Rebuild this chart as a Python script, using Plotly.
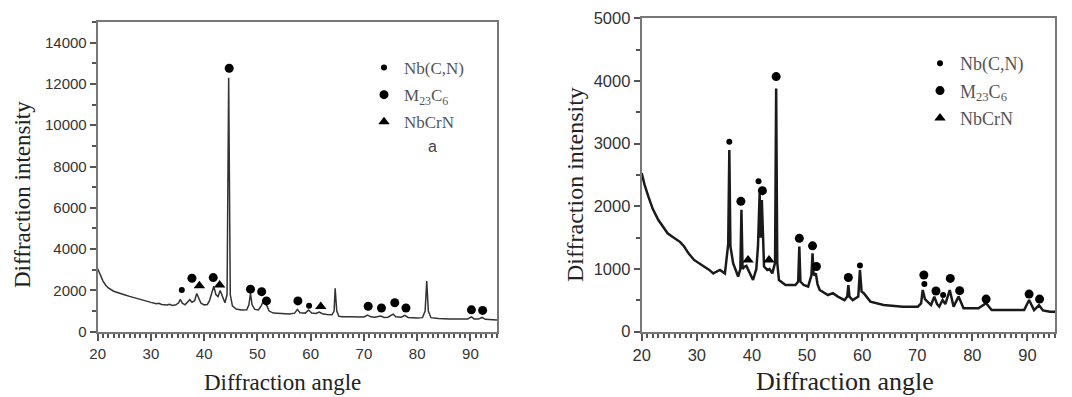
import plotly.graph_objects as go

# ---------------- Left panel (a) ----------------
left_angle = [20.0, 20.5, 21.0, 21.5, 22.0, 23.0, 24.0, 25.0, 26.0, 27.0, 28.0, 29.0, 30.0, 31.0, 31.5,
              32.0, 33.0, 33.5, 34.0, 34.7, 35.2, 35.5, 35.9, 36.4, 36.8, 37.3, 37.7, 38.2, 38.6, 39.0,
              39.4, 40.0, 40.6, 41.0, 41.5, 41.8, 42.2, 42.6, 43.0, 43.4, 43.9, 44.3, 44.6, 44.9, 45.3,
              46.0, 47.0, 48.0, 48.4, 48.7, 49.0, 49.5, 50.2, 50.7, 51.0, 51.3, 51.7, 52.2, 53.0, 54.0,
              55.0, 56.0, 57.0, 57.5, 58.0, 59.0, 59.6, 60.2, 61.0, 61.6, 62.2, 63.0, 64.0, 64.4, 64.6,
              64.9, 65.3, 66.0, 67.0, 68.0, 69.0, 70.0, 70.7, 71.3, 72.0, 73.2, 73.8, 74.5, 75.5, 76.0,
              77.0, 77.7, 78.3, 79.0, 80.0, 81.0, 81.5, 81.8, 82.1, 82.6, 84.0, 86.0, 88.0, 89.5, 90.2,
              90.7, 91.5, 92.2, 92.8, 94.0, 95.0]
left_intensity = [3050, 2700, 2450, 2250, 2120, 1960, 1860, 1790, 1710, 1630, 1560, 1490, 1420, 1360, 1380,
                  1320, 1290, 1330, 1270, 1300, 1400, 1560, 1380, 1300, 1420, 1550, 1420, 1500, 1850, 1600,
                  1380, 1300, 1320, 1500, 2000, 2200, 1800, 1700, 2000, 1700, 1400, 1800, 12300, 1800, 1250,
                  1100, 1050, 1060, 1300, 1850, 1300, 1080, 1050, 1250, 1400, 1550, 1300, 1000, 900, 880,
                  870, 860, 900, 1080, 920, 900, 1050, 900, 880, 950, 870, 830, 820, 1000, 2100,
                  1000, 750, 720, 720, 710, 700, 710, 800, 720, 700, 760, 690, 700, 850, 720,
                  700, 790, 690, 670, 660, 680, 1000, 2450, 1000, 680, 640, 620, 620, 620, 720,
                  620, 610, 690, 600, 580, 570]

left_nbcn_x = [35.8, 59.7]
left_nbcn_y = [2020, 1260]
left_m23c6_x = [37.7, 41.7, 44.7, 48.7, 50.8, 51.7, 57.6, 70.8, 73.3, 75.8, 77.9, 90.2, 92.3]
left_m23c6_y = [2590, 2620, 12760, 2060, 1940, 1490, 1490, 1230, 1150, 1400, 1150, 1060, 1030]
left_nbcrn_x = [39.1, 42.9, 61.9]
left_nbcrn_y = [2230, 2260, 1220]

# ---------------- Right panel ----------------
right_angle = [20.0, 20.5, 21.2, 22.0, 23.0, 24.0, 24.7, 25.5, 26.5, 27.0, 27.7, 28.5, 29.5, 30.5, 31.3,
               32.2, 33.0, 33.6, 34.2, 35.1, 35.5, 35.7, 35.9, 36.1, 36.6, 37.5, 37.9, 38.1, 38.3, 38.7,
               39.0, 39.5, 40.2, 40.8, 41.1, 41.4, 41.6, 41.8, 42.0, 42.2, 42.8, 43.2, 43.7, 44.2, 44.4,
               44.6, 44.9, 46.1, 47.9, 48.4, 48.6, 48.8, 49.4, 50.2, 50.8, 51.0, 51.2, 51.6, 51.9, 52.3,
               53.8, 54.7, 55.6, 56.8, 57.3, 57.5, 57.7, 58.3, 59.3, 59.6, 59.9, 60.3, 61.5, 63.9, 67.4,
               70.1, 70.7, 71.0, 71.4, 71.9, 72.5, 73.1, 73.6, 74.0, 74.6, 75.1, 75.9, 76.6, 77.5, 78.4,
               81.1, 82.5, 83.5, 86.4, 89.4, 90.3, 91.2, 92.1, 92.8, 94.1, 95.0]
right_intensity = [2530, 2350, 2160, 1960, 1785, 1650, 1570, 1520, 1465, 1430, 1360, 1250, 1145, 1080, 1040,
                   990, 930, 960, 985, 930, 1200, 1400, 2900, 1360, 1090, 880, 1000, 1945, 1000, 1040,
                   1050, 960, 825, 1000, 1360, 2210, 1500, 2100, 1400, 1040, 985, 1000, 930, 1100, 3880,
                   1100, 825, 745, 745, 800, 1360, 800, 745, 720, 900, 1250, 900, 930, 760, 665,
                   585, 615, 560, 505, 560, 745, 560, 505, 560, 985, 640, 615, 480, 425, 400,
                   400, 450, 665, 520, 480, 425, 560, 440, 400, 505, 440, 665, 400, 560, 375,
                   375, 455, 345, 345, 345, 505, 345, 425, 340, 320, 320]

right_nbcn_x = [35.9, 41.2, 59.6, 71.3, 74.7]
right_nbcn_y = [3030, 2400, 1055, 760, 585]
right_m23c6_x = [38.0, 41.9, 44.4, 48.6, 51.0, 51.7, 57.5, 71.2, 73.4, 76.0, 77.7, 82.5, 90.3, 92.2]
right_m23c6_y = [2080, 2250, 4070, 1490, 1370, 1040, 865, 905, 650, 850, 655, 520, 600, 520]
right_nbcrn_x = [39.3, 43.1]
right_nbcrn_y = [1145, 1145]

phase_names = ["Nb(C,N)", "M<sub>23</sub>C<sub>6</sub>", "NbCrN"]

W, H = 1072, 397
fig = go.Figure()

# curves
fig.add_trace(go.Scatter(x=left_angle, y=left_intensity, mode="lines",
                         line=dict(color="#333333", width=1.5), showlegend=False,
                         xaxis="x", yaxis="y"))
fig.add_trace(go.Scatter(x=right_angle, y=right_intensity, mode="lines",
                         line=dict(color="#1a1a1a", width=2.5), showlegend=False,
                         xaxis="x2", yaxis="y2"))

marker_styles = [dict(symbol="circle", size=6, color="black"),
                 dict(symbol="circle", size=9, color="black"),
                 dict(symbol="triangle-up", size=10, color="black")]

left_sets = [(left_nbcn_x, left_nbcn_y), (left_m23c6_x, left_m23c6_y), (left_nbcrn_x, left_nbcrn_y)]
right_sets = [(right_nbcn_x, right_nbcn_y), (right_m23c6_x, right_m23c6_y), (right_nbcrn_x, right_nbcrn_y)]

for i, (xs, ys) in enumerate(left_sets):
    fig.add_trace(go.Scatter(x=xs, y=ys, mode="markers", name=phase_names[i],
                             marker=marker_styles[i], xaxis="x", yaxis="y",
                             legend="legend", legendgroup="L%d" % i))
for i, (xs, ys) in enumerate(right_sets):
    fig.add_trace(go.Scatter(x=xs, y=ys, mode="markers", name=phase_names[i],
                             marker=marker_styles[i], xaxis="x2", yaxis="y2",
                             legend="legend2", legendgroup="R%d" % i))

sans = "Liberation Sans, Arial, sans-serif"
serif = "Liberation Serif, Times New Roman, serif"
tick_font_l = dict(family=sans, size=15, color="#333333")
tick_font_r = dict(family=sans, size=16.5, color="#333333")

def xaxis_cfg(domain, anchor, tf):
    return dict(domain=domain, anchor=anchor, range=[20, 95], dtick=10, tick0=20, automargin=False,
                showline=True, linecolor="#777777", linewidth=2, mirror=True,
                ticks="outside", ticklen=7, tickwidth=1.5, tickcolor="#555555",
                minor=dict(dtick=1, tick0=20, ticks="outside", ticklen=4, tickwidth=2, tickcolor="#555555"),
                showgrid=False, zeroline=False, tickfont=tf)

def yaxis_cfg(domain, anchor, rng, dt, tf):
    return dict(domain=domain, anchor=anchor, range=rng, dtick=dt, tick0=0, tickformat="d",
                automargin=False,
                showline=True, linecolor="#777777", linewidth=2, mirror=True,
                ticks="outside", ticklen=6, tickwidth=1.5, tickcolor="#555555",
                minor=dict(dtick=dt / 2, tick0=0, ticks="outside", ticklen=4, tickwidth=2, tickcolor="#555555"),
                showgrid=False, zeroline=False, tickfont=tf)

ybot = (H - 331.7) / H
fig.update_layout(
    width=W, height=H,
    template="none",
    margin=dict(l=0, r=0, t=0, b=0, autoexpand=False),
    paper_bgcolor="white", plot_bgcolor="white",
    xaxis=xaxis_cfg([97.7 / W, 497 / W], "y", tick_font_l),
    yaxis=yaxis_cfg([ybot, (H - 22) / H], "x", [0, 15000], 2000, tick_font_l),
    xaxis2=xaxis_cfg([641.7 / W, 1055 / W], "y2", tick_font_r),
    yaxis2=yaxis_cfg([ybot, (H - 18.3) / H], "x2", [0, 5000], 1000, tick_font_r),
    legend=dict(x=364 / W, y=(H - 50) / H, xanchor="left", yanchor="top",
                bgcolor="rgba(0,0,0,0)", borderwidth=0,
                font=dict(family=serif, size=17, color="#555555"), tracegroupgap=2,
                itemsizing="trace"),
    legend2=dict(x=920 / W, y=(H - 45) / H, xanchor="left", yanchor="top",
                 bgcolor="rgba(0,0,0,0)", borderwidth=0,
                 font=dict(family=serif, size=18, color="#555555"), tracegroupgap=1,
                 itemsizing="trace"),
    annotations=[
        dict(text="Diffraction angle", x=282 / W, y=(H - 382) / H, xref="paper", yref="paper",
             showarrow=False, font=dict(family=serif, size=23, color="#222222"),
             xanchor="center", yanchor="middle"),
        dict(text="Diffraction angle", x=845 / W, y=(H - 381) / H, xref="paper", yref="paper",
             showarrow=False, font=dict(family=serif, size=26, color="#222222"),
             xanchor="center", yanchor="middle"),
        dict(text="Diffraction intensity", x=23 / W, y=(H - 195) / H, xref="paper", yref="paper",
             showarrow=False, font=dict(family=serif, size=23, color="#222222"),
             textangle=-90, xanchor="center", yanchor="middle"),
        dict(text="Diffraction intensity", x=575 / W, y=(H - 185) / H, xref="paper", yref="paper",
             showarrow=False, font=dict(family=serif, size=24, color="#222222"),
             textangle=-90, xanchor="center", yanchor="middle"),
        dict(text="a", x=432 / W, y=(H - 146) / H, xref="paper", yref="paper",
             showarrow=False, font=dict(family=sans, size=16, color="#444444"),
             xanchor="center", yanchor="middle"),
    ],
)

fig.write_html("out.html", config={"displayModeBar": False},
               post_script="document.body.style.margin='0';document.body.style.overflow='hidden';")
